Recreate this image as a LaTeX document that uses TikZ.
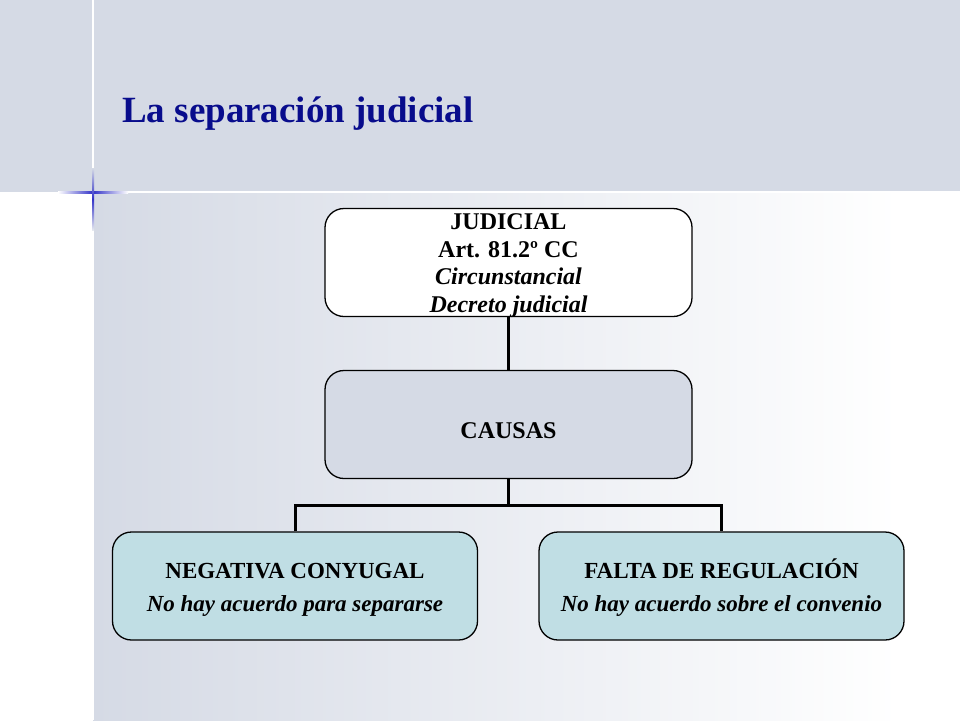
\documentclass[tikz,border=0pt]{standalone}
\usepackage{fontspec}
\setmainfont{Liberation Serif}
\definecolor{bgc}{RGB}{213,218,229}
\definecolor{titleblue}{RGB}{8,12,140}
\definecolor{crossblue}{RGB}{50,50,200}
\definecolor{causasfill}{RGB}{213,218,229}
\definecolor{leaffill}{RGB}{192,222,228}
\newcommand{\boxtext}[2]{\raisebox{#1}[0pt][0pt]{\begin{tabular}[b]{@{}c@{}}#2\end{tabular}}}
\tikzset{
  box/.style={draw=black, line width=1.3pt, rounded corners=19pt, inner sep=0pt},
  topbox/.style={box, fill=white, minimum width=367pt, minimum height=108pt, font=\fontsize{24}{27.5}\selectfont\bfseries},
  midbox/.style={box, fill=causasfill, minimum width=367pt, minimum height=108pt, font=\fontsize{24}{27.5}\selectfont\bfseries},
  leafbox/.style={box, fill=leaffill, minimum width=365pt, minimum height=108pt, font=\fontsize{23}{33}\selectfont\bfseries},
  conn/.style={line width=3pt, black},
}
\begin{document}
\begin{tikzpicture}[x=1pt, y=-1pt]
\useasboundingbox (0,0) rectangle (960,720);
% background
\fill[white] (0,0) rectangle (960,720);
\fill[bgc] (0,0) rectangle (960,192);
\shade[left color=bgc, right color=white] (93,192) rectangle (900,720);
\draw[white, line width=2pt] (93,0) -- (93,720);
\draw[white, line width=2pt] (60,192) -- (960,192);
\shade[left color=white, right color=white, middle color=crossblue] (58,191) rectangle (128,193);
\shade[top color=bgc, bottom color=bgc!60!white, middle color=crossblue] (92,168) rectangle (94,230);
% title
\node[anchor=base west, inner sep=0pt, text=titleblue, font=\fontsize{37}{40}\selectfont\bfseries] (title) at (122,122) {La separación judicial};
% boxes
\node[topbox] (jud) at (508.5,262.5) {\boxtext{-49.5pt}{JUDICIAL\\Art. 81.2º CC\\\textit{Circunstancial}\\\textit{Decreto judicial}}};
\node[midbox] (causas) at (508.5,424.5) {\boxtext{-13.5pt}{CAUSAS}};
\node[leafbox] (neg) at (295,586) {\boxtext{-25pt}{NEGATIVA CONYUGAL\\\textit{No hay acuerdo para separarse}}};
\node[leafbox] (falta) at (721.5,586) {\boxtext{-25pt}{FALTA DE REGULACIÓN\\\textit{No hay acuerdo sobre el convenio}}};
% connectors
\coordinate (fork) at (508.5,505);
\draw[conn] (jud.south) -- (causas.north);
\draw[conn] (causas.south) -- (fork);
\draw[conn] (neg.north) |- (fork) -| (falta.north);
\end{tikzpicture}
\end{document}
